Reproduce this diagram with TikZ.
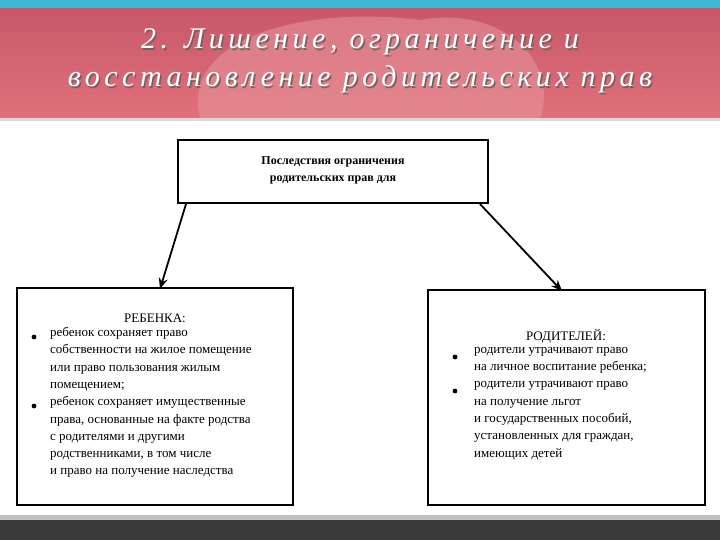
\documentclass[tikz,border=0pt]{standalone}
\usepackage{fontspec}
\setmainfont{Liberation Serif}
\usetikzlibrary{arrows.meta}
\definecolor{pinkbg}{HTML}{E0707A}
\definecolor{pinkdk}{HTML}{C85868}
\definecolor{cyanstrip}{HTML}{3FB8D8}
\definecolor{darkbar}{HTML}{3A3A3A}
\tikzset{
  box/.style={draw, line width=1.5pt},
  body/.style={font=\fontsize{13}{17.3}\selectfont, align=left, anchor=north west, inner sep=0pt},
  arr/.style={line width=1.8pt, -{Stealth[length=11pt,width=9pt]}},
  ttl/.style={font=\fontsize{30}{38}\selectfont\itshape\addfontfeatures{LetterSpace=15}, text=white, align=center}
}
\begin{document}
\begin{tikzpicture}[x=1pt,y=-1pt]
\useasboundingbox (0,0) rectangle (720,540);
\fill[white] (0,0) rectangle (720,540);
\fill[cyanstrip] (0,0) rectangle (720,9);
\shade[top color=pinkdk, bottom color=pinkbg] (0,9) rectangle (720,118);
\fill[pinkbg!70!white, opacity=0.5] (200,118) .. controls (180,40) and (300,5) .. (420,20) .. controls (500,5) and (560,60) .. (540,118) -- cycle;
\fill[gray!30] (0,118) rectangle (720,121);
\fill[gray!50] (0,515) rectangle (720,520);
\fill[darkbar] (0,520) rectangle (720,540);
\node[ttl, text=black!60] (t0) at (361.5,62.5) {2. Лишение, ограничение и\\восстановление родительских прав};
\node[ttl] (t) at (360,61) {2. Лишение, ограничение и\\восстановление родительских прав};
\draw[box] (178,140) rectangle (488,203);
\node[font=\fontsize{12}{17}\selectfont\bfseries, align=center] (top) at (333,170) {Последствия ограничения\\родительских прав для};
\coordinate (tl) at (186,204);
\coordinate (tr) at (480,204);
\draw[box] (17,288) rectangle (293,505);
\draw[box] (428,290) rectangle (705,505);
\coordinate (la) at (160,289);
\coordinate (ra) at (562,291);
\draw[arr] (tl) -- (la);
\draw[arr] (tr) -- (ra);
\node[font=\fontsize{13}{14}\selectfont] (lh) at (155,318) {РЕБЕНКА:};
\node[body] (lb) at (50,327) {ребенок сохраняет право\\собственности на жилое помещение\\или право пользования жилым\\помещением;\\ребенок сохраняет имущественные\\права, основанные на факте родства\\с родителями и другими\\родственниками, в том числе\\и право на получение наследства};
\fill (34,337) circle (2.4);
\fill (34,406) circle (2.4);
\node[font=\fontsize{13}{14}\selectfont] (rh) at (566,336) {РОДИТЕЛЕЙ:};
\node[body] (rb) at (474,347) {родители утрачивают право\\на личное воспитание ребенка;\\родители утрачивают право\\на получение льгот\\и государственных пособий,\\установленных для граждан,\\имеющих детей};
\fill (455,357) circle (2.4);
\fill (455,391) circle (2.4);
\end{tikzpicture}
\end{document}
